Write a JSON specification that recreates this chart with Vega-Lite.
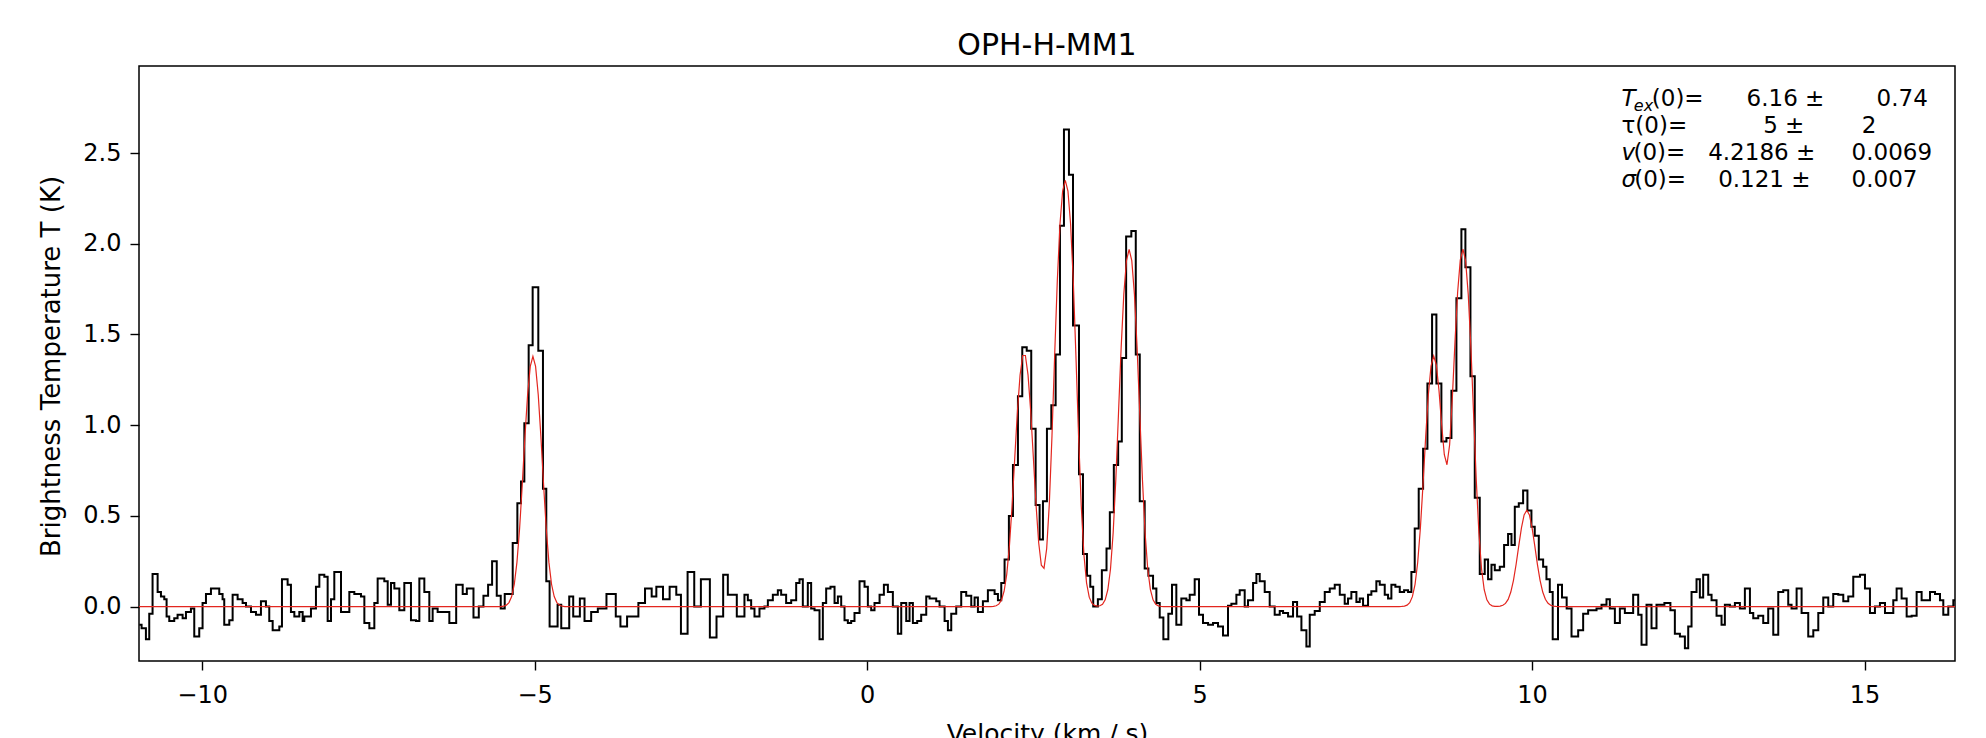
{
"$schema": "https://vega.github.io/schema/vega-lite/v6.json",
"width": 1816, "height": 595,
"autosize": {"type": "none"},
"padding": {"left": 139, "top": 66, "right": 31, "bottom": 77},
"background": "white",
"title": {"text": "OPH-H-MM1", "font": "DejaVu Sans", "fontSize": 30, "fontWeight": "normal", "color": "#000", "anchor": "middle", "baseline": "alphabetic", "offset": -19},
"config": {
  "view": {"stroke": "#000", "strokeWidth": 1.5},
  "axis": {"domain": false, "grid": false, "tickColor": "#000", "tickWidth": 1.4, "tickSize": 9,
    "labelFont": "DejaVu Sans", "labelFontSize": 24, "labelColor": "#000",
    "titleFont": "DejaVu Sans", "titleFontSize": 25, "titleFontWeight": "normal", "titleColor": "#000"}
},
"datasets": {
"spec": [
{"v":-10.946,"t":-0.10},{"v":-10.911,"t":-0.12},{"v":-10.846,"t":-0.18},{"v":-10.796,"t":-0.04},{"v":-10.746,"t":0.18},{"v":-10.670,"t":0.08},{"v":-10.620,"t":0.055},{"v":-10.570,"t":0.04},{"v":-10.535,"t":-0.055},{"v":-10.495,"t":-0.08},{"v":-10.420,"t":-0.065},{"v":-10.370,"t":-0.045},{"v":-10.294,"t":-0.065},{"v":-10.244,"t":-0.03},{"v":-10.169,"t":-0.01},{"v":-10.119,"t":-0.165},{"v":-10.044,"t":-0.12},{"v":-9.994,"t":0.02},{"v":-9.943,"t":0.07},{"v":-9.868,"t":0.10},{"v":-9.743,"t":0.07},{"v":-9.693,"t":0.04},{"v":-9.668,"t":-0.10},{"v":-9.592,"t":-0.075},{"v":-9.542,"t":0.065},{"v":-9.467,"t":0.04},{"v":-9.392,"t":0.02},{"v":-9.341,"t":0.0},{"v":-9.266,"t":-0.03},{"v":-9.191,"t":-0.045},{"v":-9.116,"t":0.03},{"v":-9.041,"t":0.0},{"v":-8.991,"t":-0.08},{"v":-8.940,"t":-0.13},{"v":-8.840,"t":-0.11},{"v":-8.800,"t":0.15},{"v":-8.715,"t":0.12},{"v":-8.665,"t":-0.03},{"v":-8.614,"t":-0.055},{"v":-8.539,"t":-0.03},{"v":-8.489,"t":-0.08},{"v":-8.464,"t":-0.055},{"v":-8.364,"t":-0.01},{"v":-8.289,"t":0.11},{"v":-8.238,"t":0.175},{"v":-8.163,"t":0.165},{"v":-8.113,"t":-0.08},{"v":-8.063,"t":0.04},{"v":-8.013,"t":0.19},{"v":-7.912,"t":-0.03},{"v":-7.787,"t":0.08},{"v":-7.712,"t":0.07},{"v":-7.612,"t":0.055},{"v":-7.561,"t":-0.09},{"v":-7.486,"t":-0.12},{"v":-7.411,"t":0.02},{"v":-7.361,"t":0.155},{"v":-7.261,"t":0.14},{"v":-7.210,"t":0.01},{"v":-7.160,"t":0.13},{"v":-7.110,"t":0.10},{"v":-7.035,"t":-0.02},{"v":-6.960,"t":0.13},{"v":-6.860,"t":-0.075},{"v":-6.784,"t":-0.08},{"v":-6.734,"t":0.155},{"v":-6.659,"t":0.08},{"v":-6.584,"t":-0.08},{"v":-6.534,"t":-0.01},{"v":-6.459,"t":-0.03},
{"v":-6.283,"t":-0.09},{"v":-6.180,"t":0.12},{"v":-6.082,"t":0.07},{"v":-6.020,"t":0.10},{"v":-5.920,"t":-0.06},{"v":-5.840,"t":0.0},{"v":-5.770,"t":0.06},{"v":-5.700,"t":0.12},{"v":-5.640,"t":0.25},{"v":-5.570,"t":0.06},{"v":-5.510,"t":-0.01},{"v":-5.450,"t":0.07},{"v":-5.330,"t":0.35},{"v":-5.260,"t":0.57},{"v":-5.205,"t":0.69},{"v":-5.155,"t":1.01},{"v":-5.090,"t":1.44},{"v":-5.030,"t":1.76},{"v":-4.945,"t":1.41},{"v":-4.875,"t":0.65},{"v":-4.825,"t":0.14},{"v":-4.775,"t":-0.11},
{"v":-4.655,"t":0.01},{"v":-4.600,"t":-0.12},{"v":-4.480,"t":0.055},{"v":-4.420,"t":-0.055},{"v":-4.320,"t":0.045},{"v":-4.250,"t":-0.08},{"v":-4.150,"t":-0.03},{"v":-4.050,"t":-0.01},{"v":-3.920,"t":0.07},{"v":-3.780,"t":-0.055},{"v":-3.710,"t":-0.11},{"v":-3.610,"t":-0.055},{"v":-3.440,"t":0.02},{"v":-3.340,"t":0.10},{"v":-3.240,"t":0.055},{"v":-3.170,"t":0.11},{"v":-3.070,"t":0.04},{"v":-2.970,"t":0.11},{"v":-2.870,"t":0.065},{"v":-2.800,"t":-0.15},{"v":-2.700,"t":0.19},{"v":-2.600,"t":0.0},{"v":-2.500,"t":0.15},{"v":-2.365,"t":-0.17},{"v":-2.265,"t":-0.055},{"v":-2.165,"t":0.175},{"v":-2.095,"t":0.065},{"v":-1.960,"t":-0.055},
{"v":-1.845,"t":0.065},{"v":-1.794,"t":0.035},{"v":-1.744,"t":-0.01},{"v":-1.694,"t":-0.055},{"v":-1.619,"t":-0.01},{"v":-1.544,"t":0.0},{"v":-1.493,"t":0.035},{"v":-1.418,"t":0.065},{"v":-1.343,"t":0.09},{"v":-1.293,"t":0.065},{"v":-1.218,"t":0.02},{"v":-1.142,"t":0.035},{"v":-1.067,"t":0.13},{"v":-1.017,"t":0.15},{"v":-0.967,"t":0.0},{"v":-0.892,"t":0.13},{"v":-0.842,"t":-0.01},{"v":-0.791,"t":-0.02},{"v":-0.716,"t":-0.18},{"v":-0.666,"t":0.02},{"v":-0.616,"t":0.10},{"v":-0.551,"t":0.11},{"v":-0.490,"t":0.02},{"v":-0.440,"t":0.055},{"v":-0.390,"t":0.0},{"v":-0.340,"t":-0.075},{"v":-0.290,"t":-0.09},{"v":-0.240,"t":-0.08},{"v":-0.190,"t":-0.035},{"v":-0.114,"t":0.14},{"v":-0.039,"t":0.11},{"v":0.011,"t":0.0},{"v":0.061,"t":-0.02},{"v":0.111,"t":0.02},{"v":0.187,"t":0.065},{"v":0.252,"t":0.12},{"v":0.312,"t":0.08},{"v":0.387,"t":0.0},{"v":0.462,"t":-0.15},{"v":0.513,"t":0.02},{"v":0.588,"t":-0.08},{"v":0.638,"t":0.02},{"v":0.688,"t":-0.09},{"v":0.753,"t":-0.08},{"v":0.813,"t":-0.045},{"v":0.889,"t":0.055},{"v":0.939,"t":0.045},{"v":1.039,"t":0.03},{"v":1.089,"t":0.0},{"v":1.165,"t":-0.08},{"v":1.215,"t":-0.13},{"v":1.265,"t":-0.04},{"v":1.340,"t":0.0},{"v":1.415,"t":0.08},{"v":1.490,"t":0.06},{"v":1.566,"t":0.0},{"v":1.616,"t":0.05},{"v":1.666,"t":-0.03},{"v":1.741,"t":0.03},{"v":1.816,"t":0.09},{"v":1.917,"t":0.07},{"v":1.967,"t":0.035},
{"v":2.017,"t":0.13},{"v":2.067,"t":0.26},{"v":2.132,"t":0.50},{"v":2.193,"t":0.78},{"v":2.268,"t":1.16},{"v":2.333,"t":1.43},{"v":2.400,"t":1.41},{"v":2.468,"t":0.98},{"v":2.534,"t":0.56},{"v":2.594,"t":0.37},{"v":2.644,"t":0.58},{"v":2.704,"t":0.98},{"v":2.770,"t":1.11},{"v":2.835,"t":1.39},{"v":2.900,"t":2.10},{"v":2.960,"t":2.63},{"v":3.035,"t":2.38},{"v":3.096,"t":1.55},{"v":3.186,"t":0.73},{"v":3.246,"t":0.29},{"v":3.306,"t":0.17},{"v":3.356,"t":0.11},{"v":3.400,"t":0.0},{"v":3.470,"t":0.04},{"v":3.530,"t":0.20},{"v":3.600,"t":0.32},{"v":3.650,"t":0.52},{"v":3.710,"t":0.78},{"v":3.775,"t":0.91},{"v":3.830,"t":1.37},{"v":3.895,"t":2.04},{"v":3.973,"t":2.07},{"v":4.040,"t":1.39},{"v":4.100,"t":0.58},{"v":4.174,"t":0.21},{"v":4.230,"t":0.17},{"v":4.300,"t":0.10},{"v":4.350,"t":0.02},{"v":4.400,"t":-0.06},{"v":4.455,"t":-0.18},{"v":4.530,"t":-0.04},{"v":4.585,"t":0.12},{"v":4.650,"t":-0.10},{"v":4.725,"t":0.045},{"v":4.801,"t":0.035},{"v":4.851,"t":0.065},{"v":4.926,"t":0.15},{"v":4.991,"t":-0.045},{"v":5.051,"t":-0.09},{"v":5.127,"t":-0.10},{"v":5.202,"t":-0.09},{"v":5.277,"t":-0.11},{"v":5.352,"t":-0.16},{"v":5.427,"t":0.005},{"v":5.478,"t":0.015},{"v":5.553,"t":0.065},{"v":5.603,"t":0.09},{"v":5.678,"t":0.0},{"v":5.728,"t":0.035},{"v":5.804,"t":0.13},{"v":5.854,"t":0.18},{"v":5.904,"t":0.14},{"v":5.979,"t":0.08},{"v":6.054,"t":0.0},{"v":6.129,"t":-0.045},{"v":6.205,"t":-0.025},{"v":6.255,"t":-0.035},{"v":6.330,"t":-0.055},{"v":6.405,"t":0.025},{"v":6.466,"t":-0.055},{"v":6.531,"t":-0.13},{"v":6.606,"t":-0.22},{"v":6.656,"t":-0.045},{"v":6.731,"t":-0.025},{"v":6.807,"t":0.025},{"v":6.882,"t":0.08},{"v":6.957,"t":0.10},{"v":7.032,"t":0.12},{"v":7.108,"t":0.065},
{"v":7.182,"t":0.015},{"v":7.232,"t":0.045},{"v":7.282,"t":0.08},{"v":7.358,"t":0.025},{"v":7.408,"t":0.045},{"v":7.458,"t":0.005},{"v":7.533,"t":0.065},{"v":7.583,"t":0.085},{"v":7.658,"t":0.14},{"v":7.709,"t":0.12},{"v":7.784,"t":0.065},{"v":7.834,"t":0.045},{"v":7.884,"t":0.12},{"v":7.944,"t":0.11},{"v":8.010,"t":0.08},{"v":8.075,"t":0.09},{"v":8.135,"t":0.08},{"v":8.185,"t":0.19},{"v":8.235,"t":0.43},{"v":8.295,"t":0.65},{"v":8.361,"t":0.87},{"v":8.426,"t":1.23},{"v":8.496,"t":1.61},{"v":8.561,"t":1.23},{"v":8.636,"t":0.91},{"v":8.712,"t":0.93},{"v":8.787,"t":1.19},{"v":8.862,"t":1.70},{"v":8.937,"t":2.08},{"v":8.997,"t":1.87},{"v":9.073,"t":1.27},{"v":9.138,"t":0.60},{"v":9.213,"t":0.18},{"v":9.288,"t":0.26},{"v":9.338,"t":0.15},{"v":9.389,"t":0.23},{"v":9.439,"t":0.20},{"v":9.514,"t":0.22},{"v":9.579,"t":0.34},{"v":9.639,"t":0.40},{"v":9.690,"t":0.34},{"v":9.740,"t":0.55},{"v":9.800,"t":0.57},{"v":9.865,"t":0.64},{"v":9.930,"t":0.53},{"v":9.990,"t":0.44},{"v":10.040,"t":0.39},{"v":10.101,"t":0.26},{"v":10.166,"t":0.22},{"v":10.216,"t":0.15},{"v":10.266,"t":0.08},{"v":10.310,"t":-0.18},{"v":10.390,"t":0.12},{"v":10.450,"t":0.05},{"v":10.520,"t":-0.01},{"v":10.593,"t":-0.165},{"v":10.693,"t":-0.13},{"v":10.768,"t":-0.04},{"v":10.843,"t":-0.02},{"v":10.969,"t":-0.01},{"v":11.044,"t":0.01},{"v":11.119,"t":0.04},{"v":11.169,"t":-0.01},{"v":11.245,"t":-0.09},{"v":11.320,"t":-0.01},{"v":11.395,"t":-0.035},{"v":11.520,"t":0.065},{"v":11.596,"t":-0.045},{"v":11.646,"t":-0.21},{"v":11.721,"t":0.01},{"v":11.796,"t":-0.12},{"v":11.871,"t":0.01},{"v":11.990,"t":0.02},{"v":12.080,"t":-0.02},{"v":12.147,"t":-0.15},{"v":12.223,"t":-0.165},{"v":12.298,"t":-0.23},{"v":12.348,"t":-0.11},{"v":12.398,"t":0.08},{"v":12.473,"t":0.15},{"v":12.523,"t":0.05},{"v":12.573,"t":0.175},{"v":12.649,"t":0.065},{"v":12.699,"t":0.035},{"v":12.774,"t":-0.05},{"v":12.849,"t":-0.10},{"v":12.899,"t":0.01},{"v":12.975,"t":0.0},{"v":13.050,"t":0.02},{"v":13.125,"t":-0.01},{"v":13.200,"t":0.10},{"v":13.276,"t":-0.035},{"v":13.326,"t":-0.065},{"v":13.401,"t":-0.05},{"v":13.476,"t":-0.09},{"v":13.551,"t":-0.01},{"v":13.627,"t":-0.155},{"v":13.702,"t":0.08},{"v":13.777,"t":0.09},{"v":13.852,"t":0.01},{"v":13.902,"t":-0.01},{"v":13.978,"t":0.10},{"v":14.053,"t":-0.035},{"v":14.153,"t":-0.165},{"v":14.229,"t":-0.13},{"v":14.304,"t":-0.035},{"v":14.379,"t":0.05},{"v":14.454,"t":0.0},{"v":14.529,"t":0.07},{"v":14.605,"t":0.065},{"v":14.680,"t":0.03},{"v":14.755,"t":0.055},{"v":14.830,"t":0.165},{"v":14.931,"t":0.175},{"v":15.006,"t":0.10},{"v":15.081,"t":-0.035},{"v":15.156,"t":0.0},{"v":15.231,"t":0.02},{"v":15.307,"t":-0.035},{"v":15.432,"t":0.035},{"v":15.482,"t":0.10},{"v":15.557,"t":0.045},{"v":15.633,"t":-0.055},{"v":15.708,"t":-0.05},{"v":15.783,"t":0.08},{"v":15.858,"t":0.035},{"v":15.984,"t":0.08},{"v":16.059,"t":0.07},{"v":16.134,"t":0.035},{"v":16.184,"t":-0.045},{"v":16.259,"t":0.0},{"v":16.335,"t":0.035},{"v":16.36,"t":0.035}
],
"model": [
{"v":-10.95,"m":0},{"v":-5.506,"m":0},{"v":-5.466,"m":0.002},{"v":-5.426,"m":0.008},{"v":-5.386,"m":0.022},{"v":-5.346,"m":0.055},{"v":-5.306,"m":0.123},{"v":-5.266,"m":0.245},{"v":-5.226,"m":0.432},{"v":-5.186,"m":0.674},{"v":-5.146,"m":0.937},{"v":-5.106,"m":1.168},{"v":-5.066,"m":1.324},{"v":-5.026,"m":1.379},{"v":-4.986,"m":1.324},{"v":-4.946,"m":1.168},{"v":-4.906,"m":0.937},{"v":-4.866,"m":0.674},{"v":-4.826,"m":0.432},{"v":-4.786,"m":0.245},{"v":-4.746,"m":0.123},{"v":-4.706,"m":0.055},{"v":-4.666,"m":0.022},{"v":-4.626,"m":0.008},{"v":-4.586,"m":0.002},{"v":-4.546,"m":0},
{"v":1.86,"m":0},{"v":1.90,"m":0.001},{"v":1.94,"m":0.0045},{"v":1.98,"m":0.0134},{"v":2.02,"m":0.0356},{"v":2.06,"m":0.0846},{"v":2.10,"m":0.179},{"v":2.14,"m":0.336},{"v":2.18,"m":0.557},{"v":2.22,"m":0.819},{"v":2.26,"m":1.075},{"v":2.30,"m":1.276},{"v":2.34,"m":1.384},{"v":2.38,"m":1.384},{"v":2.42,"m":1.276},{"v":2.46,"m":1.075},{"v":2.50,"m":0.820},{"v":2.54,"m":0.562},{"v":2.58,"m":0.352},{"v":2.62,"m":0.228},{"v":2.66,"m":0.211},{"v":2.70,"m":0.319},{"v":2.74,"m":0.567},{"v":2.78,"m":0.942},{"v":2.82,"m":1.383},{"v":2.86,"m":1.796},{"v":2.90,"m":2.108},{"v":2.94,"m":2.291},{"v":2.98,"m":2.350},{"v":3.02,"m":2.291},{"v":3.06,"m":2.108},{"v":3.10,"m":1.796},{"v":3.14,"m":1.383},{"v":3.18,"m":0.941},{"v":3.22,"m":0.556},{"v":3.26,"m":0.287},{"v":3.30,"m":0.130},{"v":3.34,"m":0.052},{"v":3.38,"m":0.0186},{"v":3.42,"m":0.0062},{"v":3.46,"m":0.0029},{"v":3.50,"m":0.0046},{"v":3.54,"m":0.0131},{"v":3.58,"m":0.0371},{"v":3.62,"m":0.093},{"v":3.66,"m":0.207},{"v":3.70,"m":0.407},{"v":3.74,"m":0.702},{"v":3.78,"m":1.063},{"v":3.82,"m":1.426},{"v":3.86,"m":1.721},{"v":3.90,"m":1.907},{"v":3.94,"m":1.969},{"v":3.98,"m":1.907},{"v":4.02,"m":1.721},{"v":4.06,"m":1.426},{"v":4.10,"m":1.063},{"v":4.14,"m":0.702},{"v":4.18,"m":0.407},{"v":4.22,"m":0.207},{"v":4.26,"m":0.093},{"v":4.30,"m":0.037},{"v":4.34,"m":0.013},{"v":4.38,"m":0.004},{"v":4.42,"m":0.001},{"v":4.46,"m":0},
{"v":8.00,"m":0},{"v":8.04,"m":0.0007},{"v":8.08,"m":0.0024},{"v":8.12,"m":0.0077},{"v":8.16,"m":0.0217},{"v":8.20,"m":0.0548},{"v":8.24,"m":0.1227},{"v":8.28,"m":0.2446},{"v":8.32,"m":0.432},{"v":8.36,"m":0.674},{"v":8.40,"m":0.937},{"v":8.44,"m":1.168},{"v":8.48,"m":1.325},{"v":8.52,"m":1.381},{"v":8.56,"m":1.332},{"v":8.60,"m":1.191},{"v":8.64,"m":1.002},{"v":8.68,"m":0.837},{"v":8.72,"m":0.782},{"v":8.76,"m":0.892},{"v":8.80,"m":1.144},{"v":8.84,"m":1.455},{"v":8.88,"m":1.731},{"v":8.92,"m":1.910},{"v":8.96,"m":1.970},{"v":9.00,"m":1.907},{"v":9.04,"m":1.721},{"v":9.08,"m":1.426},{"v":9.12,"m":1.063},{"v":9.16,"m":0.702},{"v":9.20,"m":0.407},{"v":9.24,"m":0.207},{"v":9.28,"m":0.093},{"v":9.32,"m":0.037},{"v":9.36,"m":0.0132},{"v":9.40,"m":0.0042},{"v":9.44,"m":0.0014},{"v":9.48,"m":0.0011},{"v":9.52,"m":0.0025},{"v":9.56,"m":0.0070},{"v":9.60,"m":0.0176},{"v":9.64,"m":0.0397},{"v":9.68,"m":0.0802},{"v":9.72,"m":0.1449},{"v":9.76,"m":0.2334},{"v":9.80,"m":0.336},{"v":9.84,"m":0.434},{"v":9.88,"m":0.505},{"v":9.92,"m":0.531},{"v":9.96,"m":0.505},{"v":10.00,"m":0.434},{"v":10.04,"m":0.336},{"v":10.08,"m":0.233},{"v":10.12,"m":0.145},{"v":10.16,"m":0.080},{"v":10.20,"m":0.040},{"v":10.24,"m":0.018},{"v":10.28,"m":0.007},{"v":10.32,"m":0.0025},{"v":10.36,"m":0.001},{"v":10.40,"m":0},{"v":16.36,"m":0}
],
"annReg": [
{"v":11.80,"t":2.760,"s":"(0)="},{"v":13.226,"t":2.760,"s":"6.16 ±"},{"v":15.181,"t":2.760,"s":"0.74"},
{"v":11.345,"t":2.612,"s":"τ(0)="},{"v":13.475,"t":2.612,"s":"5 ±"},{"v":14.956,"t":2.612,"s":"2"},
{"v":11.525,"t":2.463,"s":"(0)="},{"v":12.648,"t":2.463,"s":"4.2186 ±"},{"v":14.805,"t":2.463,"s":"0.0069"},
{"v":11.535,"t":2.314,"s":"(0)="},{"v":12.798,"t":2.314,"s":"0.121 ±"},{"v":14.805,"t":2.314,"s":"0.007"}
],
"annIt": [
{"v":11.345,"t":2.760,"s":"T"},{"v":11.345,"t":2.463,"s":"v"},{"v":11.345,"t":2.314,"s":"σ"}
],
"annSub": [
{"v":11.53,"t":2.733,"s":"ex"}
]
},
"layer": [
{
  "data": {"name": "spec"},
  "mark": {"type": "line", "interpolate": "step-after", "color": "#000", "strokeWidth": 2, "clip": true},
  "encoding": {
    "x": {"field": "v", "type": "quantitative", "scale": {"domain": [-10.95, 16.36], "nice": false, "zero": false},
      "axis": {"title": "Velocity (km / s)", "values": [-10, -5, 0, 5, 10, 15], "format": "d", "labelPadding": 32, "labelBaseline": "alphabetic", "titleY": 80, "titleBaseline": "alphabetic"}},
    "y": {"field": "t", "type": "quantitative", "scale": {"domain": [-0.30, 2.98], "nice": false, "zero": false},
      "axis": {"title": "Brightness Temperature T (K)", "values": [0, 0.5, 1, 1.5, 2, 2.5], "format": ".1f", "labelPadding": 9, "titleX": -80, "titleY": 300, "titleBaseline": "alphabetic", "titleFontSize": 26}}
  }
},
{
  "data": {"name": "model"},
  "mark": {"type": "line", "color": "#e3261f", "strokeWidth": 1.2, "clip": true},
  "encoding": {
    "x": {"field": "v", "type": "quantitative"},
    "y": {"field": "m", "type": "quantitative"}
  }
},
{
  "data": {"name": "annReg"},
  "mark": {"type": "text", "align": "left", "baseline": "alphabetic", "font": "DejaVu Sans", "fontSize": 23, "color": "#000"},
  "encoding": {
    "x": {"field": "v", "type": "quantitative"},
    "y": {"field": "t", "type": "quantitative"},
    "text": {"field": "s"}
  }
},
{
  "data": {"name": "annIt"},
  "mark": {"type": "text", "align": "left", "baseline": "alphabetic", "font": "DejaVu Sans", "fontStyle": "italic", "fontSize": 23, "color": "#000"},
  "encoding": {
    "x": {"field": "v", "type": "quantitative"},
    "y": {"field": "t", "type": "quantitative"},
    "text": {"field": "s"}
  }
},
{
  "data": {"name": "annSub"},
  "mark": {"type": "text", "align": "left", "baseline": "alphabetic", "font": "DejaVu Sans", "fontStyle": "italic", "fontSize": 16, "color": "#000"},
  "encoding": {
    "x": {"field": "v", "type": "quantitative"},
    "y": {"field": "t", "type": "quantitative"},
    "text": {"field": "s"}
  }
}
]
}
